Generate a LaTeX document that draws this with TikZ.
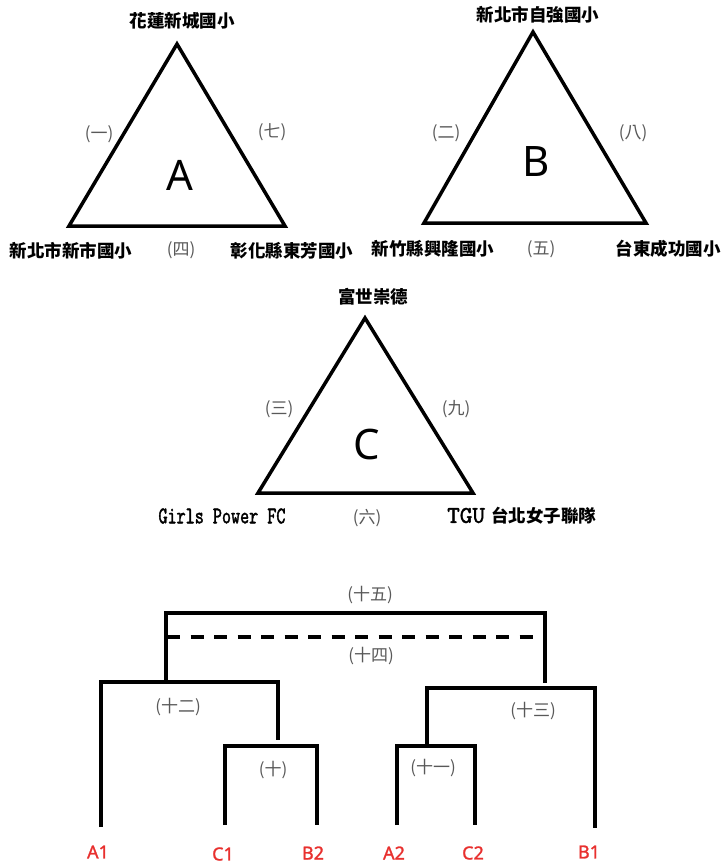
\documentclass[tikz,border=0pt]{standalone}
\usepackage{fontspec}
\setmainfont{Noto Sans}
\newfontfamily\cjk{Noto Sans CJK TC}
\newfontfamily\seedfont{Noto Sans}[FakeBold=1.4]
\newfontfamily\teamtt{lmmono10-regular.otf}[FakeStretch=0.72,FakeBold=1.6]
\newfontfamily\teamttw{lmmono10-regular.otf}[FakeBold=1.6]
\usetikzlibrary{positioning}
\definecolor{numGray}{HTML}{595959}
\definecolor{seedRed}{HTML}{E8302E}

\begin{document}
\begin{tikzpicture}[x=1pt,y=-1pt,
  tri/.style={line width=3.5pt,line join=miter},
  br/.style={line width=3.2pt,line join=miter},
  sch/.style={font=\cjk\bfseries\fontsize{17.5}{18}\selectfont,inner sep=0pt},
  num/.style={font=\cjk\fontsize{17}{18}\selectfont,text=numGray,inner sep=0pt},
  grp/.style={font=\fontsize{42}{44}\selectfont,inner sep=0pt},
  seed/.style={font=\seedfont\fontsize{18}{20}\selectfont,text=seedRed,inner sep=0pt}]
  \useasboundingbox (0,0) rectangle (723,865);
  \coordinate (At) at (177,44); \coordinate (Al) at (69,226); \coordinate (Ar) at (285,226);
  \draw[tri] (At) -- (Al) -- (Ar) -- cycle;
  \node[grp] (gA) at (180,175) {A};
  \node[sch] (sA1) at (182,21) {花蓮新城國小};
  \node[sch] (sA2) at (71,251) {新北市新市國小};
  \node[sch] (sA3) at (292,251) {彰化縣東芳國小};
  \node[num] (n1) at (99,134) {(一)};
  \node[num] (n7) at (272,132) {(七)};
  \node[num] (n4) at (181,250) {(四)};
  \coordinate (Bt) at (533,32); \coordinate (Bl) at (424,223); \coordinate (Br) at (646,223);
  \draw[tri] (Bt) -- (Bl) -- (Br) -- cycle;
  \node[grp] (gB) at (536,162) {B};
  \node[sch] (sB1) at (538,15) {新北市自強國小};
  \node[sch] (sB2) at (433,249) {新竹縣興隆國小};
  \node[sch] (sB3) at (668,249) {台東成功國小};
  \node[num] (n2) at (446,133) {(二)};
  \node[num] (n8) at (633,133) {(八)};
  \node[num] (n5) at (541,249) {(五)};
  \coordinate (Ct) at (365,318); \coordinate (Cl) at (258,493); \coordinate (Cr) at (473,493);
  \draw[tri] (Ct) -- (Cl) -- (Cr) -- cycle;
  \node[grp] (gC) at (367,444) {C};
  \node[sch] (sC1) at (373,297) {富世崇德};
  \node[sch,font=\teamtt\fontsize{24}{24}\selectfont] (sC2) at (222,516) {Girls Power FC};
  \node[sch,anchor=west] (sC3) at (447,516) {{\teamttw\fontsize{24}{24}\selectfont TGU}\hspace{6pt}台北女子聯隊};
  \node[num] (n3) at (279,409) {(三)};
  \node[num] (n9) at (456,409) {(九)};
  \node[num] (n6) at (367,518) {(六)};
  \coordinate (a1) at (101,827); \coordinate (c1) at (225,825); \coordinate (b2) at (317,825);
  \coordinate (a2) at (397,825); \coordinate (c2) at (475,825); \coordinate (b1) at (595,828);
  \coordinate (j10) at (271,746); \coordinate (j11) at (436,746);
  \coordinate (j12) at (189,682); \coordinate (e12) at (278,740);
  \coordinate (j13) at (511,688); \coordinate (e11) at (427,746);
  \coordinate (t12) at (166,682); \coordinate (j15) at (355,613); \coordinate (e13) at (545,683);
  \coordinate (d1) at (167,637); \coordinate (d2) at (537,637);
  \draw[br] (c1) |- (j10) -| (b2);
  \draw[br] (a2) |- (j11) -| (c2);
  \draw[br] (a1) |- (j12) -| (e12);
  \draw[br] (e11) |- (j13) -| (b1);
  \draw[br] (t12) |- (j15) -| (e13);
  \draw[br,dash pattern=on 13pt off 10.5pt] (d1) -- (d2);
  \node[num] (m15) at (370,595) {(十五)};
  \node[num] (m14) at (371,656) {(十四)};
  \node[num] (m12) at (178,707) {(十二)};
  \node[num] (m10) at (273,770) {(十)};
  \node[num] (m13) at (533,711) {(十三)};
  \node[num] (m11) at (433,768) {(十一)};
  \node[seed] (lA1) at (98,852) {A1};
  \node[seed] (lC1) at (223,854) {C1};
  \node[seed] (lB2) at (313,853) {B2};
  \node[seed] (lA2) at (394,853) {A2};
  \node[seed] (lC2) at (473,853) {C2};
  \node[seed] (lB1) at (589,852) {B1};
\end{tikzpicture}
\end{document}
